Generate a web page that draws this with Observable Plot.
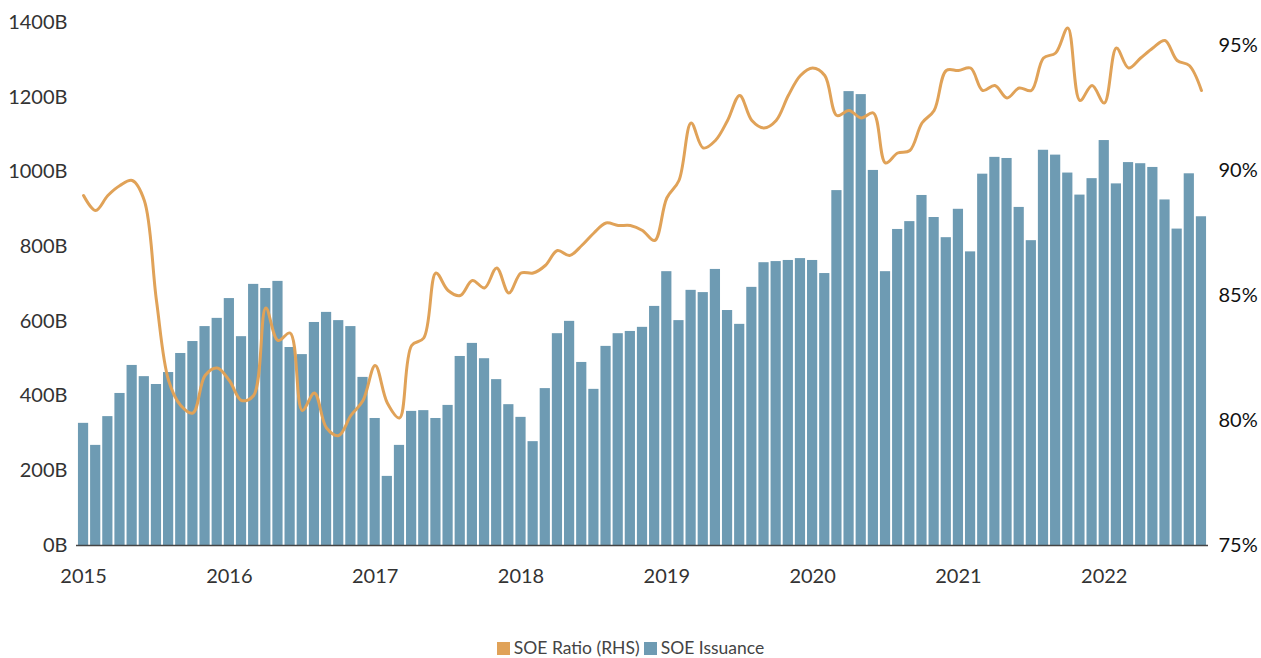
<!DOCTYPE html>
<html>
<head>
<meta charset="utf-8">
<script src="https://cdn.jsdelivr.net/npm/d3@7"></script>
<script src="https://cdn.jsdelivr.net/npm/@observablehq/plot@0.6"></script>
<style>
  html, body { margin: 0; padding: 0; background: #fff; }
  body { width: 1261px; height: 658px; overflow: hidden; font-family: Lato, "Open Sans", sans-serif; }
  #legend { display: flex; justify-content: center; align-items: center; gap: 4px; margin-top: 38px; font-size: 17.5px; color: #444; line-height: 20px; }
  #legend .item { display: flex; align-items: center; gap: 4px; }
  #legend .sw { width: 13px; height: 13px; display: inline-block; }
</style>
</head>
<body>
<div id="chart"></div>
<div id="legend"></div>
<script>
// ---- data ----
const years = [2015, 2016, 2017, 2018, 2019, 2020, 2021, 2022];
const monthCount = 93; // Jan 2015 .. Sep 2022

// SOE issuance (billions), monthly
const issuance = [
  327, 268, 345, 407, 482, 452, 431, 463, 514, 546, 586, 608,   // 2015
  661, 559, 699, 688, 707, 530, 511, 597, 624, 602, 586, 450,   // 2016
  340, 185, 268, 359, 361, 340, 375, 506, 541, 500, 444, 377,   // 2017
  343, 278, 420, 567, 600, 490, 418, 533, 567, 573, 584, 640,   // 2018
  733, 602, 683, 677, 739, 629, 592, 691, 757, 760, 763, 768,   // 2019
  763, 728, 950, 1215, 1207, 1004, 733, 846, 867, 937, 878, 824, // 2020
  900, 786, 994, 1039, 1036, 905, 816, 1058, 1045, 997, 938, 982, // 2021
  1084, 968, 1025, 1022, 1012, 925, 847, 995, 880               // 2022
];

// SOE ratio (%), right-hand scale
const ratio = [
  89.0, 88.4, 89.0, 89.4, 89.6, 88.8, 84.8, 81.6, 80.6, 80.3, 81.8, 82.1, // 2015
  81.6, 80.8, 81.0, 84.5, 83.2, 83.5, 80.4, 81.1, 79.7, 79.4, 80.2, 80.8, // 2016
  82.2, 80.7, 80.1, 83.0, 83.3, 85.9, 85.2, 85.0, 85.6, 85.3, 86.1, 85.1, // 2017
  85.9, 85.9, 86.2, 86.8, 86.6, 87.0, 87.5, 87.9, 87.8, 87.8, 87.6, 87.2, // 2018
  88.9, 89.6, 91.9, 90.9, 91.2, 92.0, 93.0, 92.0, 91.7, 92.0, 93.0, 93.8, // 2019
  94.1, 93.8, 92.2, 92.4, 92.1, 92.3, 90.3, 90.7, 90.8, 91.9, 92.4, 94.0, // 2020
  94.0, 94.1, 93.2, 93.4, 92.9, 93.3, 93.2, 94.5, 94.7, 95.7, 92.8, 93.4, // 2021
  92.7, 94.9, 94.1, 94.5, 94.9, 95.2, 94.4, 94.2, 93.2                    // 2022
];

const leftTicks = [0, 200, 400, 600, 800, 1000, 1200, 1400];
const rightTicks = [75, 80, 85, 90, 95];
const seriesNames = ["SOE Ratio (RHS)", "SOE Issuance"];
const colors = { bar: "#6e9bb3", line: "#e0a258" };

// ---- build ----
const months = [];
for (const y of years) for (let m = 1; m <= 12; m++) months.push(`${y}-${String(m).padStart(2, "0")}`);
months.length = monthCount;

const rightMin = 75, rightMax = 95.92, leftMax = 1400;
const toLeft = r => (r - rightMin) / (rightMax - rightMin) * leftMax;
const fromLeft = v => rightMin + v / leftMax * (rightMax - rightMin);

const data = months.map((m, i) => ({ month: m, issuance: issuance[i], ratio: ratio[i] }));

const chart = Plot.plot({
  width: 1261,
  height: 600,
  marginLeft: 76,
  marginRight: 53,
  marginTop: 22,
  marginBottom: 55,
  style: { fontFamily: "Lato, 'Open Sans', sans-serif", fontSize: "20px", color: "#333", background: "#fff" },
  x: { type: "band", domain: months, padding: 0.16, round: false, label: null },
  y: { domain: [0, leftMax], label: null },
  marks: [
    Plot.barY(data, { x: "month", y: "issuance", fill: colors.bar }),
    Plot.ruleY([0], { stroke: "#444", strokeWidth: 1.5 }),
    Plot.line(data, { x: "month", y: d => toLeft(d.ratio), stroke: colors.line, strokeWidth: 3, curve: "catmull-rom" }),
    Plot.axisX({ ticks: months.filter(m => m.endsWith("-01")), tickFormat: m => m.slice(0, 4), tickSize: 0, tickPadding: 23, fill: "#333", label: null }),
    Plot.axisY({ anchor: "left", ticks: leftTicks, tickFormat: v => `${v}B`, tickSize: 0, tickPadding: 9, fill: "#333", label: null }),
    Plot.axisY({ anchor: "right", ticks: rightTicks.map(toLeft), tickFormat: v => `${Math.round(fromLeft(v))}%`, tickSize: 0, tickPadding: 10, fill: "#111", label: null })
  ]
});
document.getElementById("chart").appendChild(chart);

const legend = document.getElementById("legend");
[[seriesNames[0], colors.line], [seriesNames[1], colors.bar]].forEach(([name, c]) => {
  const it = document.createElement("span");
  it.className = "item";
  it.innerHTML = `<span class="sw" style="background:${c}"></span><span>${name}</span>`;
  legend.appendChild(it);
});
</script>
</body>
</html>
